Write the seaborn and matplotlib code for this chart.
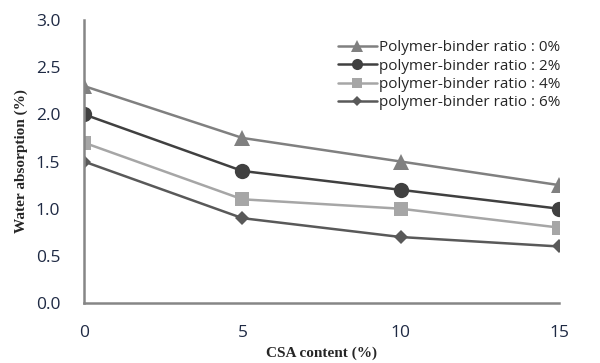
import pandas as pd
import matplotlib
matplotlib.use('Agg')
import matplotlib.pyplot as plt
import seaborn as sns

csa = [0, 5, 10, 15]
series_names = ['Polymer-binder ratio : 0%', 'polymer-binder ratio : 2%',
                'polymer-binder ratio : 4%', 'polymer-binder ratio : 6%']
ratio_0 = [2.3, 1.75, 1.5, 1.25]
ratio_2 = [2.0, 1.4, 1.2, 1.0]
ratio_4 = [1.7, 1.1, 1.0, 0.8]
ratio_6 = [1.5, 0.9, 0.7, 0.6]

rows = []
for name, vals in zip(series_names, [ratio_0, ratio_2, ratio_4, ratio_6]):
    for x, y in zip(csa, vals):
        rows.append({'csa': x, 'wa': y, 'series': name})
df = pd.DataFrame(rows)

sns.set_style('white')
plt.rcParams['font.family'] = ['Open Sans', 'DejaVu Sans']

colors = ['#808080', '#404040', '#a6a6a6', '#595959']
markers = ['^', 'o', 's', 'D']
sizes = [11, 11, 10, 7]

fig = plt.figure(figsize=(6, 3.63), dpi=100)
ax = fig.add_axes([0.14, 0.165, 0.792, 0.78])

sns.lineplot(data=df, x='csa', y='wa', hue='series', style='series',
             palette=colors, markers=markers, dashes=False, linewidth=1.8,
             markeredgewidth=0, ax=ax, legend=True)
for line, s in zip(ax.lines, sizes):
    line.set_markersize(s)

ax.set_xlim(0, 15)
ax.set_ylim(0, 3.0)
ax.set_xticks(csa)
ax.set_yticks([0, 0.5, 1.0, 1.5, 2.0, 2.5, 3.0])
ax.set_yticklabels(['0.0', '0.5', '1.0', '1.5', '2.0', '2.5', '3.0'])
ax.tick_params(direction='in', length=5, width=1.5, color='#868686',
               labelsize=12.5, labelcolor='#1f2a44')
ax.tick_params(axis='y', pad=17)
ax.tick_params(axis='x', pad=16)
for side in ['top', 'right']:
    ax.spines[side].set_visible(False)
for side in ['left', 'bottom']:
    ax.spines[side].set_color('#868686')
    ax.spines[side].set_linewidth(1.8)

ax.set_xlabel('CSA content (%)', family='Liberation Serif', fontweight='bold',
              fontsize=11, labelpad=4)
ax.set_ylabel('Water absorption (%)', family='Liberation Serif', fontweight='bold',
              fontsize=11, labelpad=6)

handles, labels = ax.get_legend_handles_labels()
for h, s in zip(handles, [8, 8, 7, 5]):
    h.set_markersize(s)
ax.legend(handles, labels, loc='upper right', bbox_to_anchor=(1.015, 0.95),
          frameon=False, handlelength=2.6, handletextpad=0.1,
          labelspacing=0.22, borderaxespad=0,
          prop={'family': ['Open Sans', 'DejaVu Sans'], 'size': 11})

fig.savefig('out.png', dpi=100)
